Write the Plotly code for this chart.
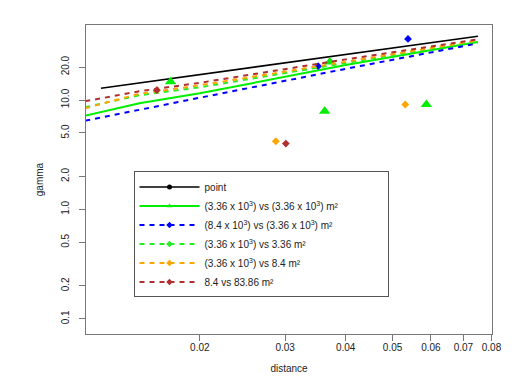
import plotly.graph_objects as go

# fitted curves (distance vs gamma)
curve_x = [0.0116, 0.015, 0.02, 0.04, 0.075]
point_x = [0.0125, 0.075]
point_y = [12.8, 38.3]
solid_y = [7.19, 9.35, 11.53, 20.89, 34.0]
blue_y = [6.48, 8.16, 10.50, 19.29, 32.95]
green_y = [8.60, 11.06, 13.08, 21.65, 34.72]
orange_y = [8.42, 11.41, 13.64, 22.44, 35.09]
brown_y = [9.75, 12.03, 14.38, 23.54, 35.83]

# observed points
tri_x = [0.0174, 0.0371, 0.0362, 0.0587]
tri_y = [14.7, 22.3, 7.9, 9.1]
blue_px = [0.0351, 0.0538]
blue_py = [20.4, 36.2]
orange_px = [0.0163, 0.0531, 0.0287]
orange_py = [12.3, 9.1, 4.2]
brown_px = [0.0163, 0.0301]
brown_py = [12.3, 4.0]

PAD = "\u00a0" * 16  # widens the legend box like the original
labels = [
    "point",
    "(3.36 x 10<sup>3</sup>) vs (3.36 x 10<sup>3</sup>) m²" + PAD,
    "(8.4 x 10<sup>3</sup>) vs (3.36 x 10<sup>3</sup>) m²",
    "(3.36 x 10<sup>3</sup>) vs 3.36 m²",
    "(3.36 x 10<sup>3</sup>) vs 8.4 m²",
    "8.4 vs 83.86 m²",
]

x_ticks = [0.02, 0.03, 0.04, 0.05, 0.06, 0.07, 0.08]
y_ticks = [0.1, 0.2, 0.5, 1, 2, 5, 10, 20]
y_text = ["0.1", "0.2", "0.5", "1.0", "2.0", "5.0", "10.0", "20.0"]

DASH = "5px,5px"
series = [
    ("black", None, point_x, point_y, None, None, "circle", 5),
    ("#00ee00", None, curve_x, solid_y, tri_x, tri_y, "triangle-up", 10),
    ("#0000ff", DASH, curve_x, blue_y, blue_px, blue_py, "diamond", 6),
    ("#22ee22", DASH, curve_x, green_y, None, None, "diamond", 6),
    ("orange", DASH, curve_x, orange_y, orange_px, orange_py, "diamond", 6),
    ("#b03030", DASH, curve_x, brown_y, brown_px, brown_py, "diamond", 6),
]

fig = go.Figure()
for (color, dash, lx, ly, px, py, sym, msz), name in zip(series, labels):
    lw = 1.6 if color == "black" else 2
    fig.add_trace(go.Scatter(x=lx, y=ly, mode="lines", showlegend=False,
                             line=dict(color=color, width=lw, dash=dash)))
    if px:
        fig.add_trace(go.Scatter(x=px, y=py, mode="markers", showlegend=False,
                                 marker=dict(color=color, symbol=sym, size=msz)))
    # legend-only entry
    fig.add_trace(go.Scatter(x=[None], y=[None], mode="lines+markers", name=name,
                             line=dict(color=color, width=lw, dash=dash),
                             marker=dict(color=color, symbol=sym, size=5)))

axis_style = dict(type="log", showgrid=False, zeroline=False, showline=True, mirror=True,
                  linecolor="#777", linewidth=1, ticks="outside", ticklen=6,
                  tickcolor="#777", tickfont=dict(size=10, color="#222"))

fig.update_xaxes(range=[-1.934, -1.0958], tickvals=x_ticks,
                 ticktext=[str(v) for v in x_ticks], ticklabelstandoff=-2,
                 title=dict(text="distance", font=dict(size=10), standoff=12), **axis_style)
fig.update_yaxes(range=[-1.139, 1.686], tickvals=y_ticks, ticktext=y_text, tickangle=-90,
                 ticklabelstandoff=6,
                 title=dict(text="gamma", font=dict(size=10), standoff=14), **axis_style)

fig.update_layout(
    width=524, height=386,
    font=dict(family="Liberation Sans, Arial, sans-serif", color="#222"),
    paper_bgcolor="white", plot_bgcolor="white",
    margin=dict(l=78, r=40, t=17, b=60),
    legend=dict(x=0.117, y=0.526, xanchor="left", yanchor="top",
                bordercolor="#555", borderwidth=1, bgcolor="white",
                font=dict(size=10), itemwidth=60, tracegroupgap=0),
)

fig.write_html("out.html")
